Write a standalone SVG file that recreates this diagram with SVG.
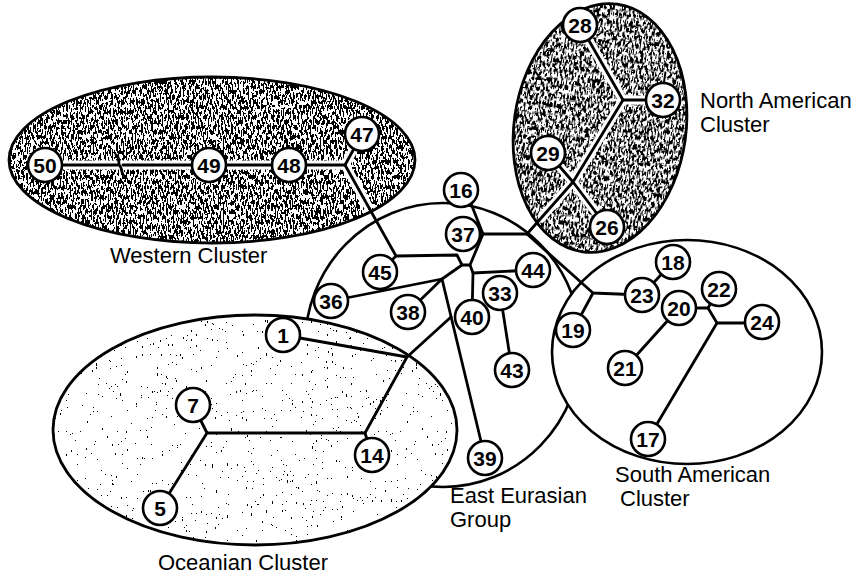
<svg xmlns="http://www.w3.org/2000/svg" width="860" height="577" viewBox="0 0 860 577">
  <defs>
    <style>
      .region{stroke:#000;stroke-width:2.6}
      .plain{fill:#fff}
      .outline{fill:none;stroke:#000;stroke-width:2.8}
      .edge{fill:none;stroke:#000;stroke-width:2.8;stroke-linecap:round;stroke-linejoin:round}
      .halo{fill:none;stroke:#fff;stroke-width:9;stroke-linecap:round;stroke-linejoin:round}
      .node circle{fill:#fff;stroke:#000;stroke-width:2.6}
      .node text{font-family:"Liberation Sans",Arial,sans-serif;font-size:21px;font-weight:bold;text-anchor:middle;fill:#000}
      .label{font-family:"Liberation Sans",Arial,sans-serif;font-size:22px;fill:#000}
    </style>
    <!-- dense halftone grain for the dark clusters -->
    <filter id="grainDark" color-interpolation-filters="sRGB">
      <feTurbulence type="fractalNoise" baseFrequency="0.6 0.2" numOctaves="2" seed="7"/>
      <feColorMatrix type="matrix" values="0 0 0 0 0  0 0 0 0 0  0 0 0 0 0  1 0 0 0 0"/>
      <feComponentTransfer><feFuncA type="discrete" tableValues="1 1 1 1 1 1 1 1 1 1 0 0 0 0 0 0 0 0 0 0"/></feComponentTransfer>
      <feComposite in2="SourceGraphic" operator="in"/>
    </filter>
    <!-- sparse speckle for the light cluster -->
    <filter id="grainLight" color-interpolation-filters="sRGB">
      <feTurbulence type="fractalNoise" baseFrequency="0.8 0.3" numOctaves="2" seed="3"/>
      <feColorMatrix type="matrix" values="0 0 0 0 0  0 0 0 0 0  0 0 0 0 0  1 0 0 0 0"/>
      <feComponentTransfer><feFuncA type="discrete" tableValues="1 0 0 0"/></feComponentTransfer>
      <feComposite in2="SourceGraphic" operator="in"/>
    </filter>
    <!-- interiors of the dark clusters, where branches get a white margin -->
    <clipPath id="darkInside">
      <ellipse cx="212" cy="160" rx="199" ry="79"/>
      <ellipse cx="600" cy="128" rx="82" ry="121" transform="rotate(8 600 128)"/>
    </clipPath>
  </defs>

  <rect width="860" height="577" fill="#fff"/>

  <!-- cluster regions -->
  <g id="east-eurasian-group">
    <ellipse class="region plain" cx="443" cy="345" rx="138" ry="142"/>
  </g>
  <g id="south-american-cluster">
    <ellipse class="region plain" cx="687" cy="352" rx="135" ry="112"/>
  </g>
  <g id="oceanian-cluster">
    <ellipse class="plain" cx="255" cy="430" rx="202" ry="115"/>
    <ellipse fill="#000" filter="url(#grainLight)" cx="255" cy="430" rx="202" ry="115"/>
    <ellipse class="outline" cx="255" cy="430" rx="202" ry="115"/>
  </g>
  <g id="western-cluster">
    <ellipse class="plain" cx="212" cy="160" rx="203" ry="83"/>
    <ellipse fill="#000" filter="url(#grainDark)" cx="212" cy="160" rx="203" ry="83"/>
    <ellipse class="outline" cx="212" cy="160" rx="203" ry="83"/>
  </g>
  <g id="north-american-cluster" transform="rotate(8 600 128)">
    <ellipse class="plain" cx="600" cy="128" rx="86" ry="125"/>
    <ellipse fill="#000" filter="url(#grainDark)" cx="600" cy="128" rx="86" ry="125"/>
    <ellipse class="outline" cx="600" cy="128" rx="86" ry="125"/>
  </g>

  <!-- tree connectors -->
  <g id="connectors">
    <!-- white margins along branches inside the dark clusters -->
    <g class="halo" clip-path="url(#darkInside)">
      <path d="M45,165 H345 L362,134"/>
      <path d="M345,165 L396,256"/>
      <path d="M527,234 L573,182 L548,153"/>
      <path d="M573,182 L607,227"/>
      <path d="M573,182 L623,100 L580,25"/>
      <path d="M623,100 H663"/>
    </g>
    <g class="edge">
      <!-- western branch with break mark -->
      <path d="M45,165 H118 M123,165 H209"/>
      <path d="M116,155 C121,158 117,163 120,166 C123,170 120,173 125,177"/>
      <path d="M209,165 H345"/>
      <path d="M345,165 L362,134"/>
      <path d="M345,165 L396,256 L380,272"/>
      <path d="M396,256 L457,255 L462,265 L470,265 L483,234"/>
      <path d="M483,234 L466,191"/>
      <path d="M483,234 H527"/>
      <!-- north american branch -->
      <path d="M527,234 L573,182 L548,153"/>
      <path d="M573,182 L607,227"/>
      <path d="M573,182 L623,100 L580,25"/>
      <path d="M623,100 H663"/>
      <!-- south american branch -->
      <path d="M527,234 L593,293 L642,295"/>
      <path d="M593,293 L573,330"/>
      <path d="M642,295 L673,262"/>
      <path d="M679,308 L625,368"/>
      <path d="M679,308 H708 L719,289"/>
      <path d="M708,308 L717,323 H762"/>
      <path d="M717,323 L648,439"/>
      <!-- east eurasian core -->
      <path d="M470,265 L473,273 L472,317"/>
      <path d="M473,273 L533,270"/>
      <path d="M500,293 L512,370"/>
      <path d="M462,265 L442,279 L331,301"/>
      <path d="M442,279 L408,312"/>
      <path d="M442,279 L485,458"/>
      <path d="M451,317 L407,357 L283,335"/>
      <path d="M407,357 L365,433 L372,455"/>
      <!-- oceanian branch -->
      <path d="M365,433 H207 L193,405"/>
      <path d="M207,433 L160,508"/>
    </g>
  </g>

  <!-- nodes -->
  <g id="node-50" class="node"><circle cx="45" cy="165" r="17"/><text x="45" y="172.5">50</text></g>
  <g id="node-49" class="node"><circle cx="209" cy="165" r="17"/><text x="209" y="172.5">49</text></g>
  <g id="node-48" class="node"><circle cx="289" cy="165" r="17"/><text x="289" y="172.5">48</text></g>
  <g id="node-47" class="node"><circle cx="362" cy="134" r="17"/><text x="362" y="141.5">47</text></g>
  <g id="node-28" class="node"><circle cx="580" cy="25" r="17"/><text x="580" y="32.5">28</text></g>
  <g id="node-32" class="node"><circle cx="663" cy="100" r="17"/><text x="663" y="107.5">32</text></g>
  <g id="node-29" class="node"><circle cx="548" cy="153" r="17"/><text x="548" y="160.5">29</text></g>
  <g id="node-26" class="node"><circle cx="607" cy="227" r="17"/><text x="607" y="234.5">26</text></g>
  <g id="node-16" class="node"><circle cx="461" cy="190" r="17"/><text x="461" y="197.5">16</text></g>
  <g id="node-37" class="node"><circle cx="463" cy="234" r="17"/><text x="463" y="241.5">37</text></g>
  <g id="node-45" class="node"><circle cx="380" cy="272" r="17"/><text x="380" y="279.5">45</text></g>
  <g id="node-36" class="node"><circle cx="331" cy="301" r="17"/><text x="331" y="308.5">36</text></g>
  <g id="node-38" class="node"><circle cx="408" cy="312" r="17"/><text x="408" y="319.5">38</text></g>
  <g id="node-40" class="node"><circle cx="472" cy="317" r="17"/><text x="472" y="324.5">40</text></g>
  <g id="node-33" class="node"><circle cx="500" cy="293" r="17"/><text x="500" y="300.5">33</text></g>
  <g id="node-44" class="node"><circle cx="533" cy="270" r="17"/><text x="533" y="277.5">44</text></g>
  <g id="node-43" class="node"><circle cx="512" cy="370" r="17"/><text x="512" y="377.5">43</text></g>
  <g id="node-39" class="node"><circle cx="485" cy="458" r="17"/><text x="485" y="465.5">39</text></g>
  <g id="node-1" class="node"><circle cx="283" cy="335" r="17"/><text x="283" y="342.5">1</text></g>
  <g id="node-7" class="node"><circle cx="193" cy="405" r="17"/><text x="193" y="412.5">7</text></g>
  <g id="node-5" class="node"><circle cx="160" cy="508" r="17"/><text x="160" y="515.5">5</text></g>
  <g id="node-14" class="node"><circle cx="372" cy="455" r="17"/><text x="372" y="462.5">14</text></g>
  <g id="node-18" class="node"><circle cx="673" cy="262" r="17"/><text x="673" y="269.5">18</text></g>
  <g id="node-23" class="node"><circle cx="642" cy="295" r="17"/><text x="642" y="302.5">23</text></g>
  <g id="node-20" class="node"><circle cx="679" cy="308" r="17"/><text x="679" y="315.5">20</text></g>
  <g id="node-22" class="node"><circle cx="719" cy="289" r="17"/><text x="719" y="296.5">22</text></g>
  <g id="node-24" class="node"><circle cx="762" cy="322" r="17"/><text x="762" y="329.5">24</text></g>
  <g id="node-21" class="node"><circle cx="625" cy="368" r="17"/><text x="625" y="375.5">21</text></g>
  <g id="node-17" class="node"><circle cx="648" cy="439" r="17"/><text x="648" y="446.5">17</text></g>
  <g id="node-19" class="node"><circle cx="573" cy="330" r="17"/><text x="573" y="337.5">19</text></g>

  <!-- cluster labels -->
  <g id="labels" class="label">
    <text x="110" y="263">Western Cluster</text>
    <text x="700" y="108">North American</text>
    <text x="700" y="132">Cluster</text>
    <text x="615" y="482">South American</text>
    <text x="620" y="506">Cluster</text>
    <text x="450" y="503">East Eurasian</text>
    <text x="450" y="527">Group</text>
    <text x="158" y="570">Oceanian Cluster</text>
  </g>
</svg>
